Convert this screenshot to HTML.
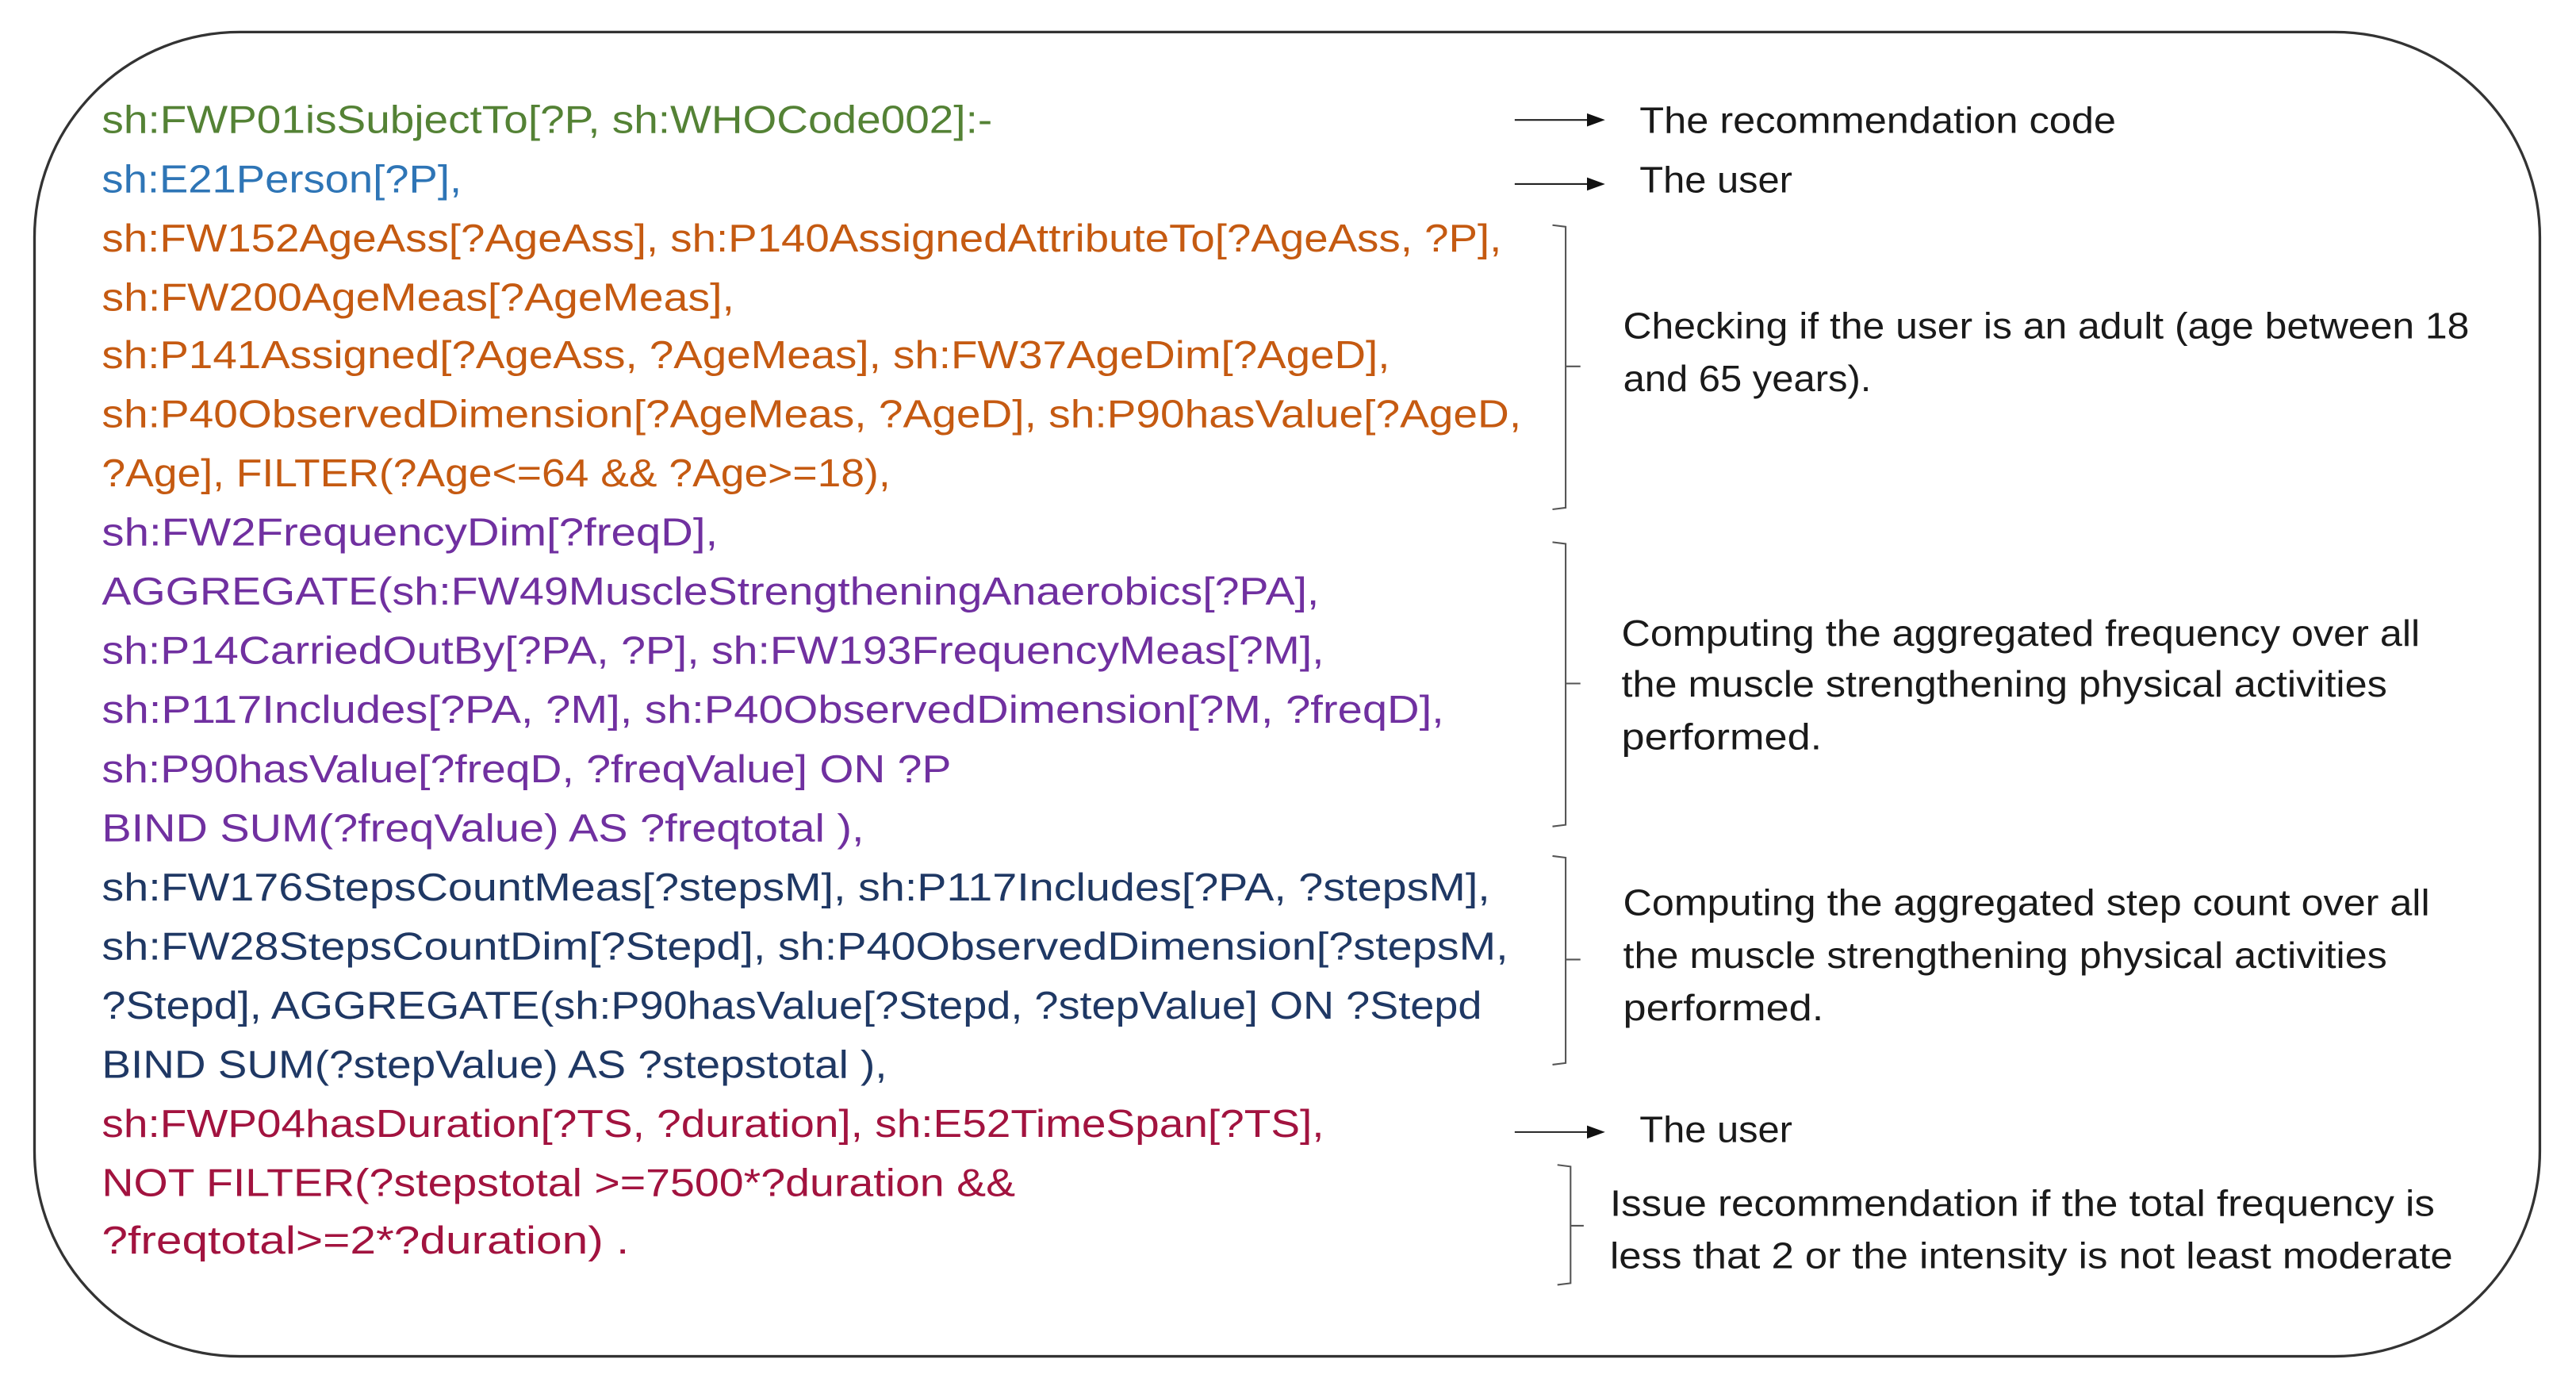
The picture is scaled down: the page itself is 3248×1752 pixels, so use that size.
<!DOCTYPE html>
<html><head><meta charset="utf-8"><style>
html,body{margin:0;padding:0;background:#fff;}
svg{display:block;}
text{font-family:"Liberation Sans",sans-serif;}
.c{font-size:23.5px;}
.r{font-size:22.5px;fill:#1a1a1a;}
.g{fill:#548235}.b{fill:#2e75b6}.o{fill:#c55a11}.p{fill:#7030a0}.n{fill:#1f3864}.m{fill:#a2133f}
</style></head><body>
<svg width="3248" height="1752" viewBox="0 0 1568 846" preserveAspectRatio="none">
<rect x="21" y="19.5" width="1525" height="806" rx="125" ry="125" fill="none" stroke="#333" stroke-width="1.6"/>
<g class="c">
<text x="62" y="81" textLength="542" lengthAdjust="spacingAndGlyphs" class="g">sh:FWP01isSubjectTo[?P, sh:WHOCode002]:-</text>
<text x="62" y="117" textLength="219" lengthAdjust="spacingAndGlyphs" class="b">sh:E21Person[?P],</text>
<text x="62" y="153" textLength="852" lengthAdjust="spacingAndGlyphs" class="o">sh:FW152AgeAss[?AgeAss], sh:P140AssignedAttributeTo[?AgeAss, ?P],</text>
<text x="62" y="189" textLength="385" lengthAdjust="spacingAndGlyphs" class="o">sh:FW200AgeMeas[?AgeMeas],</text>
<text x="62" y="224" textLength="784" lengthAdjust="spacingAndGlyphs" class="o">sh:P141Assigned[?AgeAss, ?AgeMeas], sh:FW37AgeDim[?AgeD],</text>
<text x="62" y="260" textLength="864" lengthAdjust="spacingAndGlyphs" class="o">sh:P40ObservedDimension[?AgeMeas, ?AgeD], sh:P90hasValue[?AgeD,</text>
<text x="62" y="296" textLength="480" lengthAdjust="spacingAndGlyphs" class="o">?Age], FILTER(?Age&lt;=64 &amp;&amp; ?Age&gt;=18),</text>
<text x="62" y="332" textLength="375" lengthAdjust="spacingAndGlyphs" class="p">sh:FW2FrequencyDim[?freqD],</text>
<text x="62" y="368" textLength="741" lengthAdjust="spacingAndGlyphs" class="p">AGGREGATE(sh:FW49MuscleStrengtheningAnaerobics[?PA],</text>
<text x="62" y="404" textLength="744" lengthAdjust="spacingAndGlyphs" class="p">sh:P14CarriedOutBy[?PA, ?P], sh:FW193FrequencyMeas[?M],</text>
<text x="62" y="440" textLength="817" lengthAdjust="spacingAndGlyphs" class="p">sh:P117Includes[?PA, ?M], sh:P40ObservedDimension[?M, ?freqD],</text>
<text x="62" y="476" textLength="517" lengthAdjust="spacingAndGlyphs" class="p">sh:P90hasValue[?freqD, ?freqValue] ON ?P</text>
<text x="62" y="512" textLength="464" lengthAdjust="spacingAndGlyphs" class="p">BIND SUM(?freqValue) AS ?freqtotal ),</text>
<text x="62" y="548" textLength="845" lengthAdjust="spacingAndGlyphs" class="n">sh:FW176StepsCountMeas[?stepsM], sh:P117Includes[?PA, ?stepsM],</text>
<text x="62" y="584" textLength="856" lengthAdjust="spacingAndGlyphs" class="n">sh:FW28StepsCountDim[?Stepd], sh:P40ObservedDimension[?stepsM,</text>
<text x="62" y="620" textLength="840" lengthAdjust="spacingAndGlyphs" class="n">?Stepd], AGGREGATE(sh:P90hasValue[?Stepd, ?stepValue] ON ?Stepd</text>
<text x="62" y="656" textLength="478" lengthAdjust="spacingAndGlyphs" class="n">BIND SUM(?stepValue) AS ?stepstotal ),</text>
<text x="62" y="692" textLength="744" lengthAdjust="spacingAndGlyphs" class="m">sh:FWP04hasDuration[?TS, ?duration], sh:E52TimeSpan[?TS],</text>
<text x="62" y="728" textLength="556" lengthAdjust="spacingAndGlyphs" class="m">NOT FILTER(?stepstotal &gt;=7500*?duration &amp;&amp;</text>
<text x="62" y="763" textLength="321" lengthAdjust="spacingAndGlyphs" class="m">?freqtotal&gt;=2*?duration) .</text>
</g>
<g stroke="#222" stroke-width="1" fill="none">
<line x1="922" y1="73" x2="968" y2="73"/>
<line x1="922" y1="112" x2="968" y2="112"/>
<line x1="922" y1="689" x2="968" y2="689"/>
</g>
<g fill="#111">
<polygon points="966,69 977,73 966,77"/>
<polygon points="966,108 977,112 966,116"/>
<polygon points="966,685 977,689 966,693"/>
</g>
<g stroke="#555" stroke-width="1" fill="none">
<path d="M945,137 L953,138 L953,309 L945,310 M953,223 L962,223"/>
<path d="M945,330 L953,331 L953,502 L945,503 M953,416 L962,416"/>
<path d="M945,521 L953,522 L953,647 L945,648 M953,584 L962,584"/>
<path d="M948,709 L956,710 L956,781 L948,782 M956,746 L964,746"/>
</g>
<g class="r">
<text x="998" y="81" textLength="290" lengthAdjust="spacingAndGlyphs">The recommendation code</text>
<text x="998" y="117" textLength="93" lengthAdjust="spacingAndGlyphs">The user</text>
<text x="988" y="206" textLength="515" lengthAdjust="spacingAndGlyphs">Checking if the user is an adult (age between 18</text>
<text x="988" y="238" textLength="151" lengthAdjust="spacingAndGlyphs">and 65 years).</text>
<text x="987" y="393" textLength="486" lengthAdjust="spacingAndGlyphs">Computing the aggregated frequency over all</text>
<text x="987" y="424" textLength="466" lengthAdjust="spacingAndGlyphs">the muscle strengthening physical activities</text>
<text x="987" y="456" textLength="122" lengthAdjust="spacingAndGlyphs">performed.</text>
<text x="988" y="557" textLength="491" lengthAdjust="spacingAndGlyphs">Computing the aggregated step count over all</text>
<text x="988" y="589" textLength="465" lengthAdjust="spacingAndGlyphs">the muscle strengthening physical activities</text>
<text x="988" y="621" textLength="122" lengthAdjust="spacingAndGlyphs">performed.</text>
<text x="998" y="695" textLength="93" lengthAdjust="spacingAndGlyphs">The user</text>
<text x="980" y="740" textLength="502" lengthAdjust="spacingAndGlyphs">Issue recommendation if the total frequency is</text>
<text x="980" y="772" textLength="513" lengthAdjust="spacingAndGlyphs">less that 2 or the intensity is not least moderate</text>
</g>
</svg>
</body></html>
